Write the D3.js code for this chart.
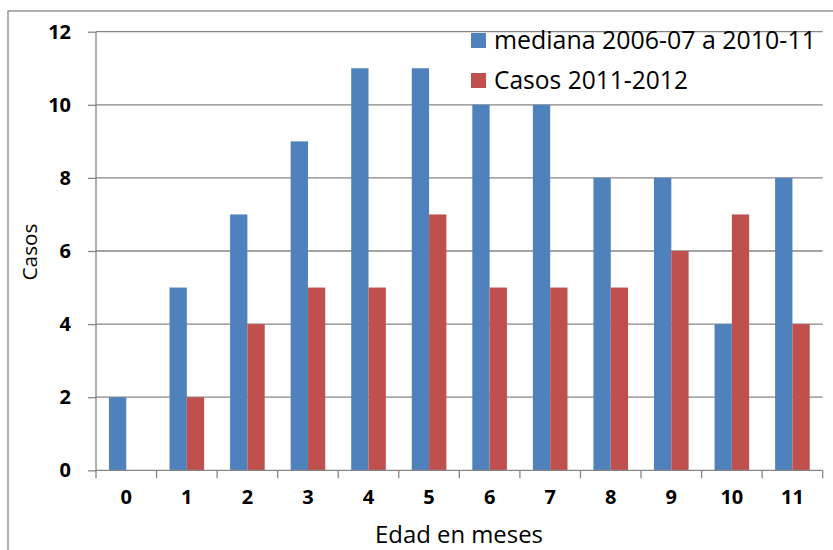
<!DOCTYPE html>
<html><head><meta charset="utf-8">
<script src="https://cdn.jsdelivr.net/npm/d3@7"></script>
<style>body{margin:0;background:#fff}svg{display:block}text{font-family:"Open Sans",sans-serif;fill:#000}</style>
</head><body><svg id="c" width="833" height="550"></svg>
<script>
const categories = ["0","1","2","3","4","5","6","7","8","9","10","11"];
const seriesNames = ["mediana 2006-07 a 2010-11","Casos 2011-2012"];
const medianaValues = [2,5,7,9,11,11,10,10,8,8,4,8];
const casosValues = [0,2,4,5,5,7,5,5,5,6,7,4];
const yTicks = [0,2,4,6,8,10,12];
const colors = ["#4F81BD","#C0504D"];

const svg = d3.select("#c");
const L = 96, R = 822.7, T = 31.7, B = 470.3;
const grid = "#868686";

// outer chart border
svg.append("rect").attr("x",8).attr("y",11).attr("width",840).attr("height",560)
  .attr("fill","#fff").attr("stroke",grid).attr("stroke-width",1.3);

const x = d3.scaleBand().domain(categories).range([L,R]).padding(0);
const y = d3.scaleLinear().domain([0,12]).range([B,T]);
const w = x.bandwidth()/3.5;
const xs = d3.scaleBand().domain([0,1]).range([0.75*w, 2.75*w]).padding(0);

// gridlines
svg.append("g").selectAll("line").data(yTicks.filter(d=>d>0)).join("line")
  .attr("x1",L).attr("x2",R).attr("y1",d=>y(d)).attr("y2",d=>y(d))
  .attr("stroke",grid).attr("stroke-width",1.3);

// bars
const data = categories.map((c,i)=>({c, v:[medianaValues[i], casosValues[i]]}));
const g = svg.append("g");
[0,1].forEach(s=>{
  g.selectAll(".b"+s).data(data.filter(d=>d.v[s]>0)).join("rect")
   .attr("x",d=>x(d.c)+xs(s)).attr("width",xs.bandwidth())
   .attr("y",d=>y(d.v[s])).attr("height",d=>B-y(d.v[s]))
   .attr("fill",colors[s]);
});

// y axis
const ya = svg.append("g").attr("transform",`translate(${L},0)`)
  .call(d3.axisLeft(y).tickValues(yTicks).tickSize(8).tickPadding(17));
ya.select(".domain").attr("stroke",grid).attr("stroke-width",1.3).attr("d",`M0,${T}V${B}`);
ya.selectAll(".tick line").attr("stroke",grid).attr("stroke-width",1.3);
ya.selectAll(".tick text").style("font-family","'Open Sans',sans-serif").style("font-size","20px").style("font-weight","bold").attr("fill","#000");

// x axis
const xa = svg.append("g").attr("transform",`translate(0,${B})`)
  .call(d3.axisBottom(x).tickSize(0).tickPadding(20));
xa.select(".domain").attr("stroke",grid).attr("stroke-width",1.3).attr("d",`M${L},0H${R}`);
xa.selectAll(".tick text").style("font-family","'Open Sans',sans-serif").style("font-size","20px").style("font-weight","bold").attr("fill","#000");
const bounds = categories.map(c=>x(c)).concat([R]);
xa.append("g").selectAll("line").data(bounds).join("line")
  .attr("x1",d=>d).attr("x2",d=>d).attr("y1",0).attr("y2",8)
  .attr("stroke",grid).attr("stroke-width",1.3);

function fit(sel, target, base){
  sel.style("font-size", base+"px");
  const wdt = sel.node().getComputedTextLength();
  sel.style("font-size", (base*target/wdt).toFixed(2)+"px");
}

// axis titles
const yt = svg.append("text").attr("transform","translate(37,252) rotate(-90)")
  .attr("text-anchor","middle").text("Casos");
fit(yt,57,20);
const xt = svg.append("text").attr("x",459).attr("y",543)
  .attr("text-anchor","middle").text("Edad en meses");
fit(xt,168,20);

// legend
const lg = svg.append("g");
const legY = [40.5, 80.5];
seriesNames.forEach((n,i)=>{
  lg.append("rect").attr("x",471).attr("y",legY[i]-7.5).attr("width",15).attr("height",15).attr("fill",colors[i]);
  const t = lg.append("text").attr("x",494).attr("y",legY[i]).attr("dy","0.35em").text(n);
  fit(t, i===0?322:194, 22);
});
</script></body></html>
